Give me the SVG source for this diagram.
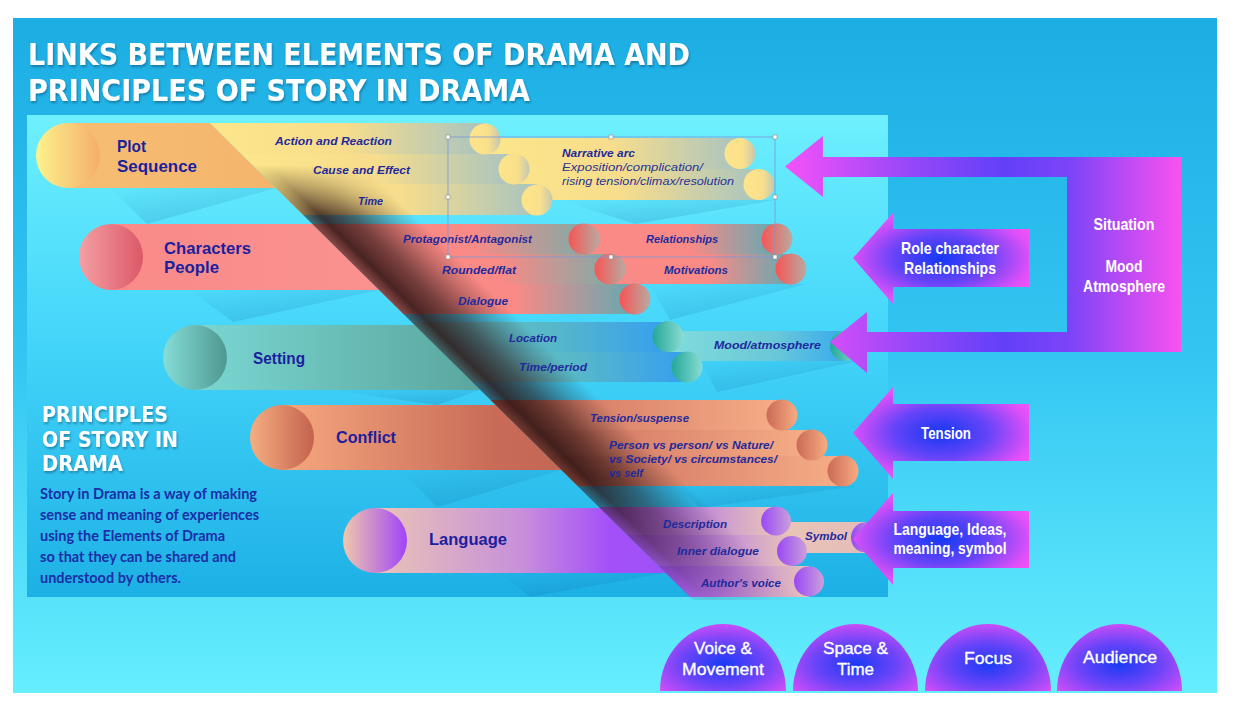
<svg xmlns="http://www.w3.org/2000/svg" width="1234" height="706" viewBox="0 0 1234 706">
<defs>
<style>
.title{font-family:"DejaVu Sans",sans-serif;font-weight:700;font-size:30px;fill:#fff}
.head{font-family:"DejaVu Sans",sans-serif;font-weight:700;font-size:21px;fill:#fff}
.body{font-family:Lato,"Liberation Sans",sans-serif;font-weight:700;font-size:14.5px;fill:#1a2ea6}
.main{font-family:"Liberation Sans",Arial,sans-serif;font-weight:700;font-size:17px;fill:#1b1f9e}
.sub{font-family:"Liberation Sans",Arial,sans-serif;font-weight:700;font-style:italic;font-size:11.5px;fill:#1f2a9c}
.subn{font-family:"Liberation Sans",Arial,sans-serif;font-weight:400;font-style:italic;font-size:11.5px;fill:#2a3494}
.wl{font-family:"Liberation Sans Narrow","Liberation Sans",Arial,sans-serif;font-weight:700;font-size:17px;fill:#fff;text-anchor:middle}
.dl{font-family:"Liberation Sans",Arial,sans-serif;font-weight:400;font-size:17px;fill:#fff;text-anchor:middle;stroke:#fff;stroke-width:0.35}
.sel{fill:none;stroke:#7d96d6;stroke-width:0.8}
.hd{fill:#fff;stroke:#8a8a8a;stroke-width:0.6}
.wedge{fill:url(#gWedge)}
</style>
<filter id="ts" x="-5%" y="-30%" width="110%" height="160%"><feDropShadow dx="1" dy="2" stdDeviation="1" flood-color="#00304f" flood-opacity="0.4"/></filter>
<linearGradient id="gBg" x1="0" y1="0" x2="0" y2="1"><stop offset="0" stop-color="#1cade3"/><stop offset="0.5" stop-color="#33c6f2"/><stop offset="1" stop-color="#66eefe"/></linearGradient>
<linearGradient id="gPanel" x1="0" y1="0" x2="0" y2="1"><stop offset="0" stop-color="#6ef0fe"/><stop offset="0.45" stop-color="#45d6fa"/><stop offset="1" stop-color="#1db0e5"/></linearGradient>
<linearGradient id="gWedge" x1="0" y1="0" x2="0.8" y2="1"><stop offset="0" stop-color="#0a5a9a" stop-opacity="0"/><stop offset="1" stop-color="#0a5a9a" stop-opacity="0.22"/></linearGradient>
<linearGradient id="gShadow" gradientUnits="userSpaceOnUse" x1="440" y1="350" x2="494.3" y2="295">
<stop offset="0" stop-color="#2a1212" stop-opacity="0.55"/>
<stop offset="0.15" stop-color="#2a1212" stop-opacity="0.85"/>
<stop offset="0.45" stop-color="#2a1212" stop-opacity="0.6"/>
<stop offset="0.75" stop-color="#2a1212" stop-opacity="0.25"/>
<stop offset="1" stop-color="#2a1212" stop-opacity="0"/>
</linearGradient>
<linearGradient id="gV" gradientUnits="userSpaceOnUse" x1="0" y1="165" x2="0" y2="600"><stop offset="0" stop-color="#000"/><stop offset="0.12" stop-color="#fff"/><stop offset="0.72" stop-color="#fff"/><stop offset="0.86" stop-color="#999"/><stop offset="1" stop-color="#222"/></linearGradient>
<mask id="vmask" maskUnits="userSpaceOnUse" x="0" y="0" width="1234" height="706"><rect x="0" y="100" width="1234" height="520" fill="url(#gV)"/></mask>
<g id="shadowShape" mask="url(#vmask)"><polygon points="252.5,165 693,600 803,600 362.5,165" fill="url(#gShadow)"/></g>
<clipPath id="clipL"><polygon points="0,100 186.7,100 703.2,610 0,610"/></clipPath>
<clipPath id="clipR"><polygon points="186.7,100 1234,100 1234,610 703.2,610"/></clipPath>
<clipPath id="cs1"><rect x="0" y="160" width="1234" height="64"/></clipPath>
<clipPath id="cs2"><rect x="0" y="224" width="1234" height="98"/></clipPath>
<clipPath id="cs3"><rect x="0" y="322" width="1234" height="78"/></clipPath>
<clipPath id="cs4"><rect x="0" y="400" width="1234" height="107"/></clipPath>
<clipPath id="cs5"><rect x="0" y="507" width="1234" height="103"/></clipPath>
<linearGradient id="gPlotL"><stop offset="0" stop-color="#f6be72"/><stop offset="1" stop-color="#f4b46c"/></linearGradient>
<linearGradient id="gPlotCap"><stop offset="0" stop-color="#fdf28c"/><stop offset="0.5" stop-color="#f9d07c"/><stop offset="1" stop-color="#f3ae6a"/></linearGradient>
<linearGradient id="gPlotSub"><stop offset="0" stop-color="#fde68a"/><stop offset="0.5" stop-color="#f7dd8c"/><stop offset="1" stop-color="#a9c4c0"/></linearGradient>
<linearGradient id="gPlotCirc"><stop offset="0" stop-color="#fde48a"/><stop offset="0.6" stop-color="#fbe08c"/><stop offset="1" stop-color="#c2c8b0"/></linearGradient>
<linearGradient id="gCharL"><stop offset="0" stop-color="#f98a88"/><stop offset="1" stop-color="#fa9290"/></linearGradient>
<linearGradient id="gCharCap"><stop offset="0" stop-color="#f4a0a4"/><stop offset="1" stop-color="#dc5868"/></linearGradient>
<linearGradient id="gCharSub"><stop offset="0" stop-color="#f98a86"/><stop offset="0.6" stop-color="#f98a86"/><stop offset="1" stop-color="#84aaa6"/></linearGradient>
<linearGradient id="gCharSub2"><stop offset="0" stop-color="#f98a86"/><stop offset="0.55" stop-color="#f98a86"/><stop offset="1" stop-color="#62aab2"/></linearGradient>
<linearGradient id="gCharCirc"><stop offset="0" stop-color="#f75555"/><stop offset="1" stop-color="#b8aaa0"/></linearGradient>
<linearGradient id="gSetL"><stop offset="0" stop-color="#7ad6d2"/><stop offset="1" stop-color="#5aa69e"/></linearGradient>
<linearGradient id="gSetCap"><stop offset="0" stop-color="#86ddd8"/><stop offset="1" stop-color="#4e9890"/></linearGradient>
<linearGradient id="gSetSub"><stop offset="0" stop-color="#66c4c6"/><stop offset="0.55" stop-color="#58b8c8"/><stop offset="1" stop-color="#369ff0"/></linearGradient>
<linearGradient id="gMood"><stop offset="0" stop-color="#80dcdc"/><stop offset="0.6" stop-color="#6ac8d8"/><stop offset="1" stop-color="#38aaee"/></linearGradient>
<linearGradient id="gSetCirc"><stop offset="0" stop-color="#22a898"/><stop offset="1" stop-color="#8adcd4"/></linearGradient>
<linearGradient id="gConL"><stop offset="0" stop-color="#f5a87e"/><stop offset="0.75" stop-color="#c96b58"/><stop offset="1" stop-color="#c46654"/></linearGradient>
<linearGradient id="gConCap"><stop offset="0" stop-color="#f6ae80"/><stop offset="1" stop-color="#c4624e"/></linearGradient>
<linearGradient id="gConSub"><stop offset="0" stop-color="#c0604e"/><stop offset="0.35" stop-color="#d8806a"/><stop offset="1" stop-color="#f6ae86"/></linearGradient>
<linearGradient id="gConCirc"><stop offset="0" stop-color="#cc6a56"/><stop offset="1" stop-color="#f6ac82"/></linearGradient>
<linearGradient id="gLanL"><stop offset="0" stop-color="#eac4b6"/><stop offset="0.5" stop-color="#c890da"/><stop offset="0.8" stop-color="#a450f8"/><stop offset="1" stop-color="#a050f8"/></linearGradient>
<linearGradient id="gLanCap"><stop offset="0" stop-color="#f0c8ac"/><stop offset="1" stop-color="#a044f8"/></linearGradient>
<linearGradient id="gLanSub"><stop offset="0" stop-color="#9a4cf6"/><stop offset="0.45" stop-color="#b878e4"/><stop offset="1" stop-color="#e8c4b8"/></linearGradient>
<linearGradient id="gSym"><stop offset="0" stop-color="#eac6b6"/><stop offset="1" stop-color="#e4bcb8"/></linearGradient>
<linearGradient id="gLanCirc"><stop offset="0" stop-color="#9a48f4"/><stop offset="1" stop-color="#caa0dc"/></linearGradient>
<linearGradient id="gU" gradientUnits="userSpaceOnUse" x1="785" y1="0" x2="1181" y2="0"><stop offset="0" stop-color="#f652f8"/><stop offset="0.3" stop-color="#9a48f8"/><stop offset="0.55" stop-color="#6240f8"/><stop offset="0.72" stop-color="#7c44f8"/><stop offset="1" stop-color="#fa52f0"/></linearGradient>
<radialGradient id="gA" cx="0.5" cy="0.5" r="0.6"><stop offset="0" stop-color="#1538f5"/><stop offset="0.45" stop-color="#6644f8"/><stop offset="0.85" stop-color="#e050f8"/><stop offset="1" stop-color="#f852f4"/></radialGradient>
<radialGradient id="gD" cx="0.5" cy="0.6" r="0.72"><stop offset="0" stop-color="#1a3af6"/><stop offset="0.45" stop-color="#6a44f8"/><stop offset="0.8" stop-color="#c04cf8"/><stop offset="1" stop-color="#fa52f2"/></radialGradient>
</defs>

<rect x="0" y="0" width="1234" height="706" fill="#ffffff"/>
<rect x="13" y="18" width="1204" height="675" fill="url(#gBg)"/>
<rect x="27" y="115" width="861" height="482" fill="url(#gPanel)"/>

<g filter="url(#ts)">
<text class="title" x="28" y="65" textLength="662" lengthAdjust="spacingAndGlyphs">LINKS BETWEEN ELEMENTS OF DRAMA AND</text>
<text class="title" x="28" y="101" textLength="502" lengthAdjust="spacingAndGlyphs">PRINCIPLES OF STORY IN DRAMA</text>
</g>

<g id="wedges">
<polygon class="wedge" points="276,188 110,188 147,224"/>
<polygon class="wedge" points="379,290 190,290 233,322"/>
<polygon class="wedge" points="480,390 330,390 437,405"/>
<polygon class="wedge" points="561,470 400,470 437,507"/>
<polygon class="wedge" points="666,573 500,573 530,597"/>
<polygon class="wedge" points="775,200 560,200 635,224"/>
<polygon class="wedge" points="806,284 650,284 670,320"/>
<polygon class="wedge" points="858,361 700,361 717,392"/>
<polygon class="wedge" points="858,486 680,486 700,508"/>
</g>

<g id="plot">
<g clip-path="url(#clipL)"><rect x="68" y="123" width="210" height="65" fill="url(#gPlotL)"/></g>
<ellipse cx="68" cy="155.5" rx="32" ry="32.5" fill="url(#gPlotCap)"/>
<rect x="485" y="138" width="255" height="31" fill="url(#gPlotSub)"/>
<rect x="485" y="169" width="274" height="31" fill="url(#gPlotSub)"/>
<ellipse cx="740" cy="153.5" rx="15.5" ry="15.5" fill="url(#gPlotCirc)"/>
<ellipse cx="759" cy="184.5" rx="15.5" ry="15.5" fill="url(#gPlotCirc)"/>
<g clip-path="url(#clipR)">
<rect x="205" y="123" width="280" height="31" fill="url(#gPlotSub)"/>
<rect x="236" y="154" width="278" height="30" fill="url(#gPlotSub)"/>
<rect x="266" y="184" width="271" height="31" fill="url(#gPlotSub)"/>
</g>
<ellipse cx="485" cy="139" rx="15.5" ry="15.5" fill="url(#gPlotCirc)"/>
<ellipse cx="514" cy="169" rx="15.5" ry="15.5" fill="url(#gPlotCirc)"/>
<ellipse cx="537" cy="200" rx="15.5" ry="15.5" fill="url(#gPlotCirc)"/>
<use href="#shadowShape" clip-path="url(#cs1)"/>
<text class="main" x="117" y="152" textLength="29" lengthAdjust="spacingAndGlyphs">Plot</text>
<text class="main" x="117" y="172" textLength="80" lengthAdjust="spacingAndGlyphs">Sequence</text>
<text class="sub" x="275" y="145" textLength="117" lengthAdjust="spacingAndGlyphs">Action and Reaction</text>
<text class="sub" x="313" y="174" textLength="97" lengthAdjust="spacingAndGlyphs">Cause and Effect</text>
<text class="sub" x="358" y="205" textLength="25" lengthAdjust="spacingAndGlyphs">Time</text>
<text class="sub" x="562" y="157" textLength="73" lengthAdjust="spacingAndGlyphs">Narrative arc</text>
<text class="subn" x="562" y="171" textLength="141" lengthAdjust="spacingAndGlyphs">Exposition/complication/</text>
<text class="subn" x="562" y="185" textLength="172" lengthAdjust="spacingAndGlyphs">rising tension/climax/resolution</text>
</g>

<g id="characters">
<g clip-path="url(#clipL)"><rect x="111" y="224" width="270" height="66" fill="url(#gCharL)"/></g>
<ellipse cx="111" cy="257" rx="32" ry="33" fill="url(#gCharCap)"/>
<rect x="584" y="224" width="193" height="30" fill="url(#gCharSub2)"/>
<rect x="610" y="254" width="181" height="30" fill="url(#gCharSub2)"/>
<ellipse cx="777" cy="239" rx="15.5" ry="15.5" fill="url(#gCharCirc)"/>
<ellipse cx="791" cy="269" rx="15.5" ry="15.5" fill="url(#gCharCirc)"/>
<g clip-path="url(#clipR)">
<rect x="307" y="224" width="277" height="30" fill="url(#gCharSub)"/>
<rect x="337" y="254" width="273" height="30" fill="url(#gCharSub)"/>
<rect x="368" y="284" width="267" height="30" fill="url(#gCharSub2)"/>
</g>
<ellipse cx="584" cy="239" rx="15.5" ry="15.5" fill="url(#gCharCirc)"/>
<ellipse cx="610" cy="269" rx="15.5" ry="15.5" fill="url(#gCharCirc)"/>
<ellipse cx="635" cy="299" rx="15.5" ry="15.5" fill="url(#gCharCirc)"/>
<use href="#shadowShape" clip-path="url(#cs2)"/>
<text class="main" x="164" y="254" textLength="87" lengthAdjust="spacingAndGlyphs">Characters</text>
<text class="main" x="164" y="273" textLength="55" lengthAdjust="spacingAndGlyphs">People</text>
<text class="sub" x="403" y="243" textLength="129" lengthAdjust="spacingAndGlyphs">Protagonist/Antagonist</text>
<text class="sub" x="646" y="243" textLength="72" lengthAdjust="spacingAndGlyphs">Relationships</text>
<text class="sub" x="442" y="274" textLength="74" lengthAdjust="spacingAndGlyphs">Rounded/flat</text>
<text class="sub" x="664" y="274" textLength="64" lengthAdjust="spacingAndGlyphs">Motivations</text>
<text class="sub" x="458" y="305" textLength="50" lengthAdjust="spacingAndGlyphs">Dialogue</text>
</g>

<g id="setting">
<g clip-path="url(#clipL)"><rect x="195" y="325" width="287" height="65" fill="url(#gSetL)"/></g>
<ellipse cx="195" cy="357.5" rx="32" ry="32.5" fill="url(#gSetCap)"/>
<rect x="668" y="331" width="177" height="30" fill="url(#gMood)"/>
<ellipse cx="845" cy="346" rx="15" ry="15" fill="url(#gSetCirc)"/>
<g clip-path="url(#clipR)">
<rect x="406" y="322" width="262" height="30" fill="url(#gSetSub)"/>
<rect x="437" y="352" width="250" height="30" fill="url(#gSetSub)"/>
</g>
<ellipse cx="668" cy="336.5" rx="15.5" ry="15.5" fill="url(#gSetCirc)"/>
<ellipse cx="687" cy="367" rx="15.5" ry="15.5" fill="url(#gSetCirc)"/>
<use href="#shadowShape" clip-path="url(#cs3)"/>
<text class="main" x="253" y="364" textLength="52" lengthAdjust="spacingAndGlyphs">Setting</text>
<text class="sub" x="509" y="342" textLength="48" lengthAdjust="spacingAndGlyphs">Location</text>
<text class="sub" x="519" y="371" textLength="68" lengthAdjust="spacingAndGlyphs">Time/period</text>
<text class="sub" x="714" y="349" textLength="107" lengthAdjust="spacingAndGlyphs">Mood/atmosphere</text>
</g>

<g id="conflict">
<g clip-path="url(#clipL)"><rect x="282" y="405" width="281" height="65" fill="url(#gConL)"/></g>
<ellipse cx="282" cy="437.5" rx="32" ry="32.5" fill="url(#gConCap)"/>
<g clip-path="url(#clipR)">
<rect x="485" y="400" width="297" height="30" fill="url(#gConSub)"/>
<rect x="516" y="430" width="296" height="27" fill="url(#gConSub)"/>
<rect x="542" y="456" width="301" height="30" fill="url(#gConSub)"/>
</g>
<ellipse cx="782" cy="415" rx="15.5" ry="15.5" fill="url(#gConCirc)"/>
<ellipse cx="812" cy="445" rx="15.5" ry="15.5" fill="url(#gConCirc)"/>
<ellipse cx="843" cy="471" rx="15.5" ry="15.5" fill="url(#gConCirc)"/>
<use href="#shadowShape" clip-path="url(#cs4)"/>
<text class="main" x="336" y="443" textLength="60" lengthAdjust="spacingAndGlyphs">Conflict</text>
<text class="sub" x="590" y="422" textLength="99" lengthAdjust="spacingAndGlyphs">Tension/suspense</text>
<text class="sub" x="609" y="449" textLength="164" lengthAdjust="spacingAndGlyphs">Person vs person/ vs Nature/</text>
<text class="sub" x="609" y="463" textLength="168" lengthAdjust="spacingAndGlyphs">vs Society/ vs circumstances/</text>
<text class="sub" x="609" y="477" textLength="34" lengthAdjust="spacingAndGlyphs">vs self</text>
</g>

<g id="language">
<g clip-path="url(#clipL)"><rect x="375" y="508" width="292" height="65" fill="url(#gLanL)"/></g>
<ellipse cx="375" cy="540.5" rx="32" ry="32.5" fill="url(#gLanCap)"/>
<rect x="776" y="522" width="89" height="31" fill="url(#gSym)"/>
<ellipse cx="865" cy="537.5" rx="14" ry="15" fill="url(#gLanCirc)"/>
<g clip-path="url(#clipR)">
<rect x="594" y="507" width="182" height="28" fill="url(#gLanSub)"/>
<rect x="622" y="535" width="170" height="31" fill="url(#gLanSub)"/>
<rect x="654" y="566" width="155" height="31" fill="url(#gLanSub)"/>
</g>
<ellipse cx="776" cy="521" rx="15" ry="14.5" fill="url(#gLanCirc)"/>
<ellipse cx="792" cy="551" rx="15" ry="15" fill="url(#gLanCirc)"/>
<ellipse cx="809" cy="581.5" rx="15" ry="15" fill="url(#gLanCirc)"/>
<use href="#shadowShape" clip-path="url(#cs5)"/>
<text class="main" x="429" y="545" textLength="78" lengthAdjust="spacingAndGlyphs">Language</text>
<text class="sub" x="663" y="528" textLength="64" lengthAdjust="spacingAndGlyphs">Description</text>
<text class="sub" x="805" y="540" textLength="42" lengthAdjust="spacingAndGlyphs">Symbol</text>
<text class="sub" x="677" y="555" textLength="82" lengthAdjust="spacingAndGlyphs">Inner dialogue</text>
<text class="sub" x="701" y="587" textLength="80" lengthAdjust="spacingAndGlyphs">Author's voice</text>
</g>

<g id="selection">
<rect class="sel" x="448" y="137" width="327" height="120"/>
<rect class="hd" x="446" y="135" width="4" height="4"/>
<rect class="hd" x="609" y="135" width="4" height="4"/>
<rect class="hd" x="773" y="135" width="4" height="4"/>
<rect class="hd" x="446" y="195" width="4" height="4"/>
<rect class="hd" x="773" y="195" width="4" height="4"/>
<rect class="hd" x="446" y="255" width="4" height="4"/>
<rect class="hd" x="609" y="255" width="4" height="4"/>
<rect class="hd" x="773" y="255" width="4" height="4"/>
</g>

<g id="principles">
<g filter="url(#ts)">
<text class="head" x="42" y="422" textLength="126" lengthAdjust="spacingAndGlyphs">PRINCIPLES</text>
<text class="head" x="42" y="447" textLength="136" lengthAdjust="spacingAndGlyphs">OF STORY IN</text>
<text class="head" x="42" y="471" textLength="81" lengthAdjust="spacingAndGlyphs">DRAMA</text>
</g>
<text class="body" x="40" y="499" textLength="217" lengthAdjust="spacingAndGlyphs">Story in Drama is a way of making</text>
<text class="body" x="40" y="520" textLength="219" lengthAdjust="spacingAndGlyphs">sense and meaning of experiences</text>
<text class="body" x="40" y="541" textLength="185" lengthAdjust="spacingAndGlyphs">using the Elements of Drama</text>
<text class="body" x="40" y="562" textLength="196" lengthAdjust="spacingAndGlyphs">so that they can be shared and</text>
<text class="body" x="40" y="583" textLength="141" lengthAdjust="spacingAndGlyphs">understood by others.</text>
</g>

<g id="connectors">
<g id="arrow-situation">
<path d="M1181,157 L823,157 L823,136 L785,166.5 L823,197 L823,177 L1067,177 L1067,332 L867,332 L867,312 L830,342 L867,373 L867,352 L1181,352 Z" fill="url(#gU)"/>
<text class="wl" x="1124" y="230" textLength="61" lengthAdjust="spacingAndGlyphs">Situation</text>
<text class="wl" x="1124" y="272" textLength="37" lengthAdjust="spacingAndGlyphs">Mood</text>
<text class="wl" x="1124" y="292" textLength="82" lengthAdjust="spacingAndGlyphs">Atmosphere</text>
</g>
<g id="arrow-role">
<path d="M1029,229 L893,229 L893,213 L853,258 L893,304 L893,287 L1029,287 Z" fill="url(#gA)"/>
<text class="wl" x="950" y="254" textLength="98" lengthAdjust="spacingAndGlyphs">Role character</text>
<text class="wl" x="950" y="274" textLength="92" lengthAdjust="spacingAndGlyphs">Relationships</text>
</g>
<g id="arrow-tension">
<path d="M1029,404 L893,404 L893,387 L853,433 L893,479 L893,461 L1029,461 Z" fill="url(#gA)"/>
<text class="wl" x="946" y="439" textLength="50" lengthAdjust="spacingAndGlyphs">Tension</text>
</g>
<g id="arrow-language">
<path d="M1029,511 L893,511 L893,493 L853,539 L893,585 L893,568 L1029,568 Z" fill="url(#gA)"/>
<text class="wl" x="950" y="535" textLength="113" lengthAdjust="spacingAndGlyphs">Language, Ideas,</text>
<text class="wl" x="950" y="554" textLength="113" lengthAdjust="spacingAndGlyphs">meaning, symbol</text>
</g>
</g>

<g id="voice-movement">
<path d="M660,691 A63,67 0 0 1 786,691 Z" fill="url(#gD)"/>
<text class="dl" x="723" y="654" textLength="58" lengthAdjust="spacingAndGlyphs">Voice &amp;</text>
<text class="dl" x="723" y="675" textLength="82" lengthAdjust="spacingAndGlyphs">Movement</text>
</g>
<g id="space-time">
<path d="M793,691 A62.5,67 0 0 1 918,691 Z" fill="url(#gD)"/>
<text class="dl" x="855.5" y="654" textLength="65" lengthAdjust="spacingAndGlyphs">Space &amp;</text>
<text class="dl" x="855.5" y="675" textLength="37" lengthAdjust="spacingAndGlyphs">Time</text>
</g>
<g id="focus">
<path d="M925,691 A63,67 0 0 1 1051,691 Z" fill="url(#gD)"/>
<text class="dl" x="988" y="664" textLength="48" lengthAdjust="spacingAndGlyphs">Focus</text>
</g>
<g id="audience">
<path d="M1057,691 A62.5,67 0 0 1 1182,691 Z" fill="url(#gD)"/>
<text class="dl" x="1120" y="663" textLength="74" lengthAdjust="spacingAndGlyphs">Audience</text>
</g>
</svg>
